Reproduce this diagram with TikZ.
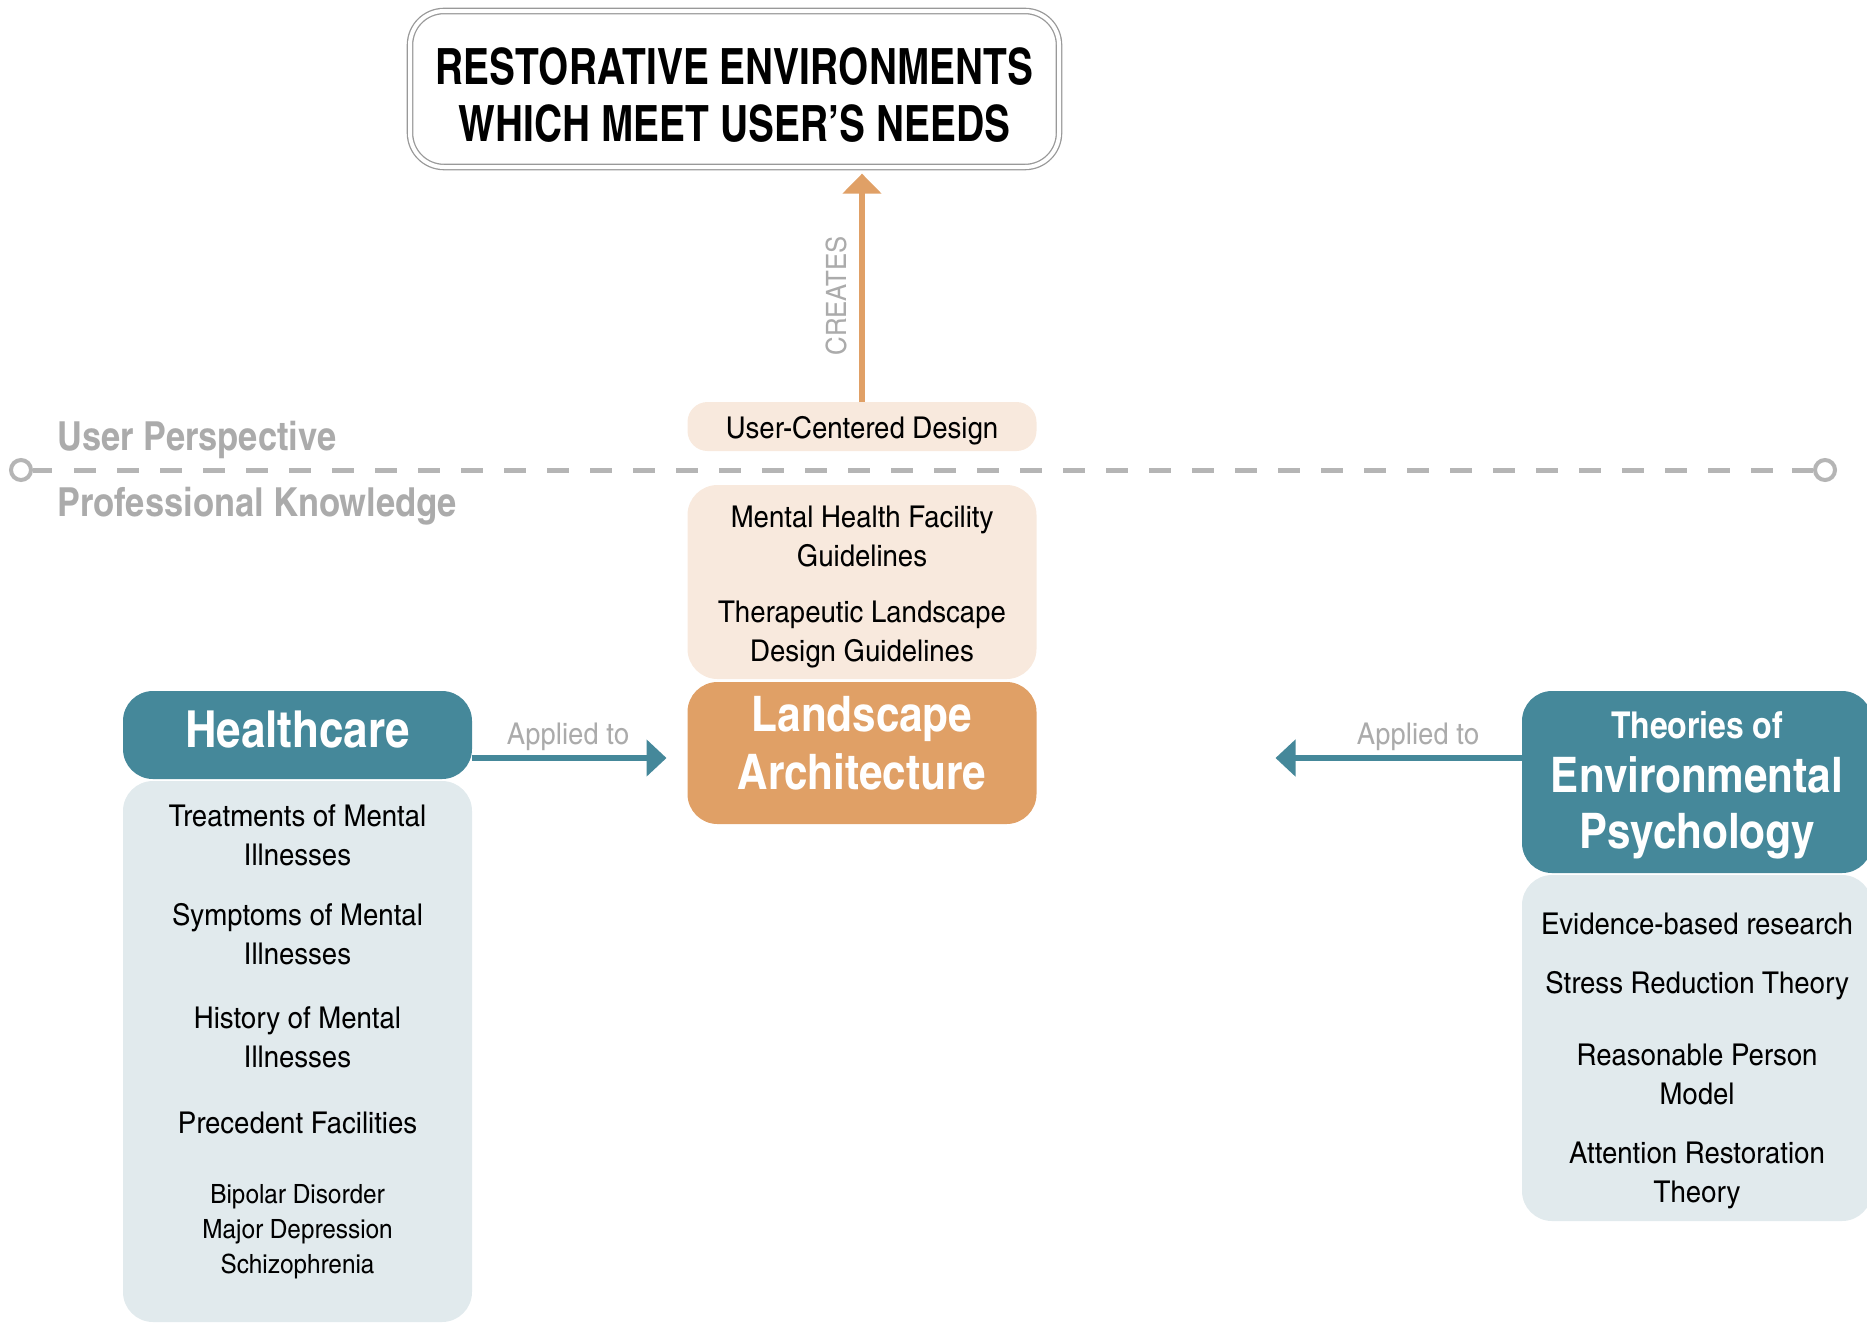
\documentclass[tikz,border=0pt]{standalone}
\usepackage{fontspec}
\setmainfont[FakeStretch=1.12]{TeX Gyre Heros Cn}
\newfontfamily\headfont[FakeStretch=1.05]{TeX Gyre Heros Cn}
\newfontfamily\titlefont[FakeStretch=0.95]{TeX Gyre Heros Cn}
\usetikzlibrary{arrows.meta}
\definecolor{hcteal}{HTML}{45889A}
\definecolor{paleblue}{HTML}{E1EAED}
\definecolor{laorange}{HTML}{E0A066}
\definecolor{paleorange}{HTML}{F8E9DD}
\definecolor{labelgray}{HTML}{ABABAB}
\definecolor{linegray}{HTML}{B5B5B5}
\begin{document}
\begin{tikzpicture}[x=1pt,y=-1pt,
  panel/.style={rounded corners=30pt, minimum width=349pt, inner sep=0pt, outer sep=0pt},
  item/.style={align=center, font=\fontsize{30}{39}\selectfont},
  headtext/.style={align=center, text=white, font=\headfont\bfseries\fontsize{49}{58}\selectfont},
  sidelabel/.style={anchor=west, text=labelgray, font=\headfont\bfseries\fontsize{40}{46}\selectfont},
  applied/.style={text=labelgray, font=\fontsize{30}{34}\selectfont},
  tealarrow/.style={draw=hcteal, line width=6pt, -{Triangle[width=36pt,length=20pt]}},
]
\useasboundingbox (0,0) rectangle (1867,1323);

% goal box with double outline
\node[draw=gray!80, double=white, double distance=4pt, line width=1.3pt,
      rounded corners=34pt, minimum width=649pt, minimum height=156pt]
  (goal) at (734.5,89) {};
\node[align=center, font=\titlefont\bfseries\fontsize{50}{57}\selectfont]
  (goaltext) at (734.5,95) {RESTORATIVE ENVIRONMENTS\\WHICH MEET USER’S NEEDS};

% user / professional divider
\node[sidelabel] (userlab) at (54,440) {User Perspective};
\node[sidelabel] (prolab) at (54,506) {Professional Knowledge};
\node[circle, draw=linegray, line width=4pt, fill=white, minimum size=20pt, inner sep=0pt] (lend) at (21,470) {};
\node[circle, draw=linegray, line width=4pt, fill=white, minimum size=20pt, inner sep=0pt] (rend) at (1825,470) {};
\coordinate (dstart) at (74,470);
\coordinate (dstop) at (1773,470);
\draw[linegray, line width=5pt] (lend.east) -- (52,470);
\draw[linegray, line width=5pt, dash pattern=on 22pt off 21pt] (dstart) -- (dstop);
\draw[linegray, line width=5pt] (1792,470) -- (rend.west);

% centre column
\node[panel, fill=paleorange, rounded corners=20pt, minimum height=49pt] (ucd) at (862,426.5) {};
\node[item] (ucdtext) at (862,431) {User-Centered Design};
\node[panel, fill=paleorange, minimum height=194pt] (guides) at (862,582) {};
\node[item] (mhf) at (862,537) {Mental Health Facility\\Guidelines};
\node[item] (tld) at (862,635) {Therapeutic Landscape\\Design Guidelines};
\node[panel, fill=laorange, minimum height=142pt] (la) at (862,753) {};
\node[headtext] (latext) at (862,743) {Landscape\\Architecture};

\draw[laorange, line width=6pt, -{Triangle[width=38pt,length=20pt]}, shorten >=6pt] (ucd.north) -- (ucd.north |- goal.south);
\node[applied, font=\fontsize{28}{32}\selectfont, rotate=90] (creates) at (836,296) {CREATES};

% healthcare column
\node[panel, fill=hcteal, minimum height=88pt] (hc) at (297.5,735) {};
\node[headtext, font=\headfont\bfseries\fontsize{51}{56}\selectfont] (hctext) at (297.5,730) {Healthcare};
\node[panel, fill=paleblue, minimum height=541pt] (hcbody) at (297.5,1051.5) {};
\node[item] (treat) at (297.5,835) {Treatments of Mental\\Illnesses};
\node[item] (symp) at (297.5,934) {Symptoms of Mental\\Illnesses};
\node[item] (hist) at (297.5,1037) {History of Mental\\Illnesses};
\node[item] (prec) at (297.5,1123) {Precedent Facilities};
\node[item, font=\fontsize{26.5}{35}\selectfont] (dis) at (297.5,1232) {Bipolar Disorder\\Major Depression\\Schizophrenia};

% environmental psychology column
\node[panel, fill=hcteal, minimum width=350pt, minimum height=182pt] (ep) at (1697,782) {};
\node[headtext, font=\headfont\bfseries\fontsize{37}{40}\selectfont] (eptop) at (1697,725) {Theories of};
\node[headtext, font=\headfont\bfseries\fontsize{49}{56}\selectfont] (eptext) at (1697,808) {Environmental\\Psychology};
\node[panel, fill=paleblue, minimum width=350pt, minimum height=346pt] (epbody) at (1697,1048) {};
\node[item] (evid) at (1697,924) {Evidence-based research};
\node[item] (srt) at (1697,986) {Stress Reduction Theory};
\node[item] (rpm) at (1697,1074) {Reasonable Person\\Model};
\node[item] (art) at (1697,1175) {Attention Restoration\\Theory};

% applied-to connectors
\coordinate (arrowrow) at (0,758);
\draw[tealarrow, shorten >=21pt] (hc.east |- arrowrow) -- (la.west |- arrowrow);
\node[applied] (app1) at (568,737) {Applied to};
\draw[tealarrow, shorten >=239pt] (ep.west |- arrowrow) -- (la.east |- arrowrow);
\node[applied] (app2) at (1418,737) {Applied to};
\end{tikzpicture}
\end{document}
